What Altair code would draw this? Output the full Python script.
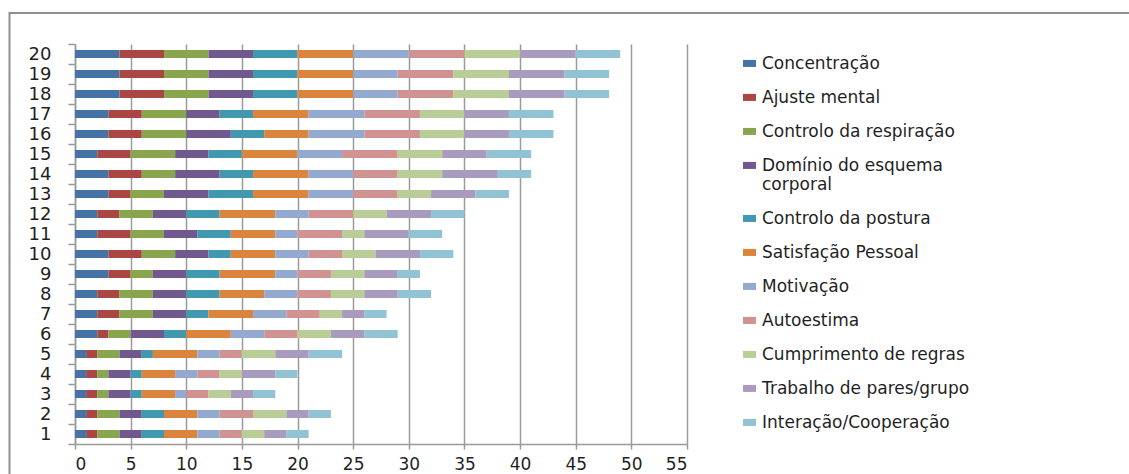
import altair as alt
import pandas as pd

# Rows 1..20 (bottom to top in the chart)
rows = list(range(1, 21))

series_names = [
    "Concentração",
    "Ajuste mental",
    "Controlo da respiração",
    "Domínio do esquema corporal",
    "Controlo da postura",
    "Satisfação Pessoal",
    "Motivação",
    "Autoestima",
    "Cumprimento de regras",
    "Trabalho de pares/grupo",
    "Interação/Cooperação",
]

series_colors = [
    "#4572A7", "#AA4643", "#89A54E", "#71588F", "#4198AF", "#DB843D",
    "#93A9CF", "#D19392", "#B9CD96", "#A99BBD", "#92C3D4",
]

# One list per series, values for rows 1..20
concentracao = [1, 1, 1, 1, 1, 2, 2, 2, 3, 3, 2, 2, 3, 3, 2, 3, 3, 4, 4, 4]
ajuste_mental = [1, 1, 1, 1, 1, 1, 2, 2, 2, 3, 3, 2, 2, 3, 3, 3, 3, 4, 4, 4]
controlo_respiracao = [2, 2, 1, 1, 2, 2, 3, 3, 2, 3, 3, 3, 3, 3, 4, 4, 4, 4, 4, 4]
dominio_esquema = [2, 2, 2, 2, 2, 3, 3, 3, 3, 3, 3, 3, 4, 4, 3, 4, 3, 4, 4, 4]
controlo_postura = [2, 2, 1, 1, 1, 2, 2, 3, 3, 2, 3, 3, 4, 3, 3, 3, 3, 4, 4, 4]
satisfacao = [3, 3, 3, 3, 4, 4, 4, 4, 5, 4, 4, 5, 5, 5, 5, 4, 5, 5, 5, 5]
motivacao = [2, 2, 1, 2, 2, 3, 3, 3, 2, 3, 2, 3, 4, 4, 4, 5, 5, 4, 4, 5]
autoestima = [2, 3, 2, 2, 2, 3, 3, 3, 3, 3, 4, 4, 4, 4, 5, 5, 5, 5, 5, 5]
cumprimento = [2, 3, 2, 2, 3, 3, 2, 3, 3, 3, 2, 3, 3, 4, 4, 4, 4, 5, 5, 5]
trabalho_pares = [2, 2, 2, 3, 3, 3, 2, 3, 3, 4, 4, 4, 4, 5, 4, 4, 4, 5, 5, 5]
interacao = [2, 2, 2, 2, 3, 3, 2, 3, 2, 3, 3, 3, 3, 3, 4, 4, 4, 4, 4, 4]

series_values = [
    concentracao, ajuste_mental, controlo_respiracao, dominio_esquema,
    controlo_postura, satisfacao, motivacao, autoestima, cumprimento,
    trabalho_pares, interacao,
]

x_ticks = list(range(0, 56, 5))

records = []
for k, (name, vals) in enumerate(zip(series_names, series_values)):
    for r, v in zip(rows, vals):
        records.append({"linha": r, "serie": name, "ordem": k, "valor": v})
df = pd.DataFrame(records)

FONT = "DejaVu Sans"
GRID = "#9a9a9a"
TEXT = "#1f1f1f"

# Swatch: a 13x7 rectangle, nudged down to sit beside the first text line
swatch = "M-1,0.68H1V1.76H-1Z"

bars = alt.Chart(df).mark_bar(height={"band": 0.4}).encode(
    x=alt.X(
        "valor:Q",
        stack="zero",
        scale=alt.Scale(domain=[0, 55], nice=False),
        axis=alt.Axis(
            values=x_ticks,
            title=None,
            grid=True,
            gridColor=GRID,
            gridWidth=1.5,
            domainColor=GRID,
            domainWidth=1.5,
            tickColor=GRID,
            tickWidth=1.5,
            tickSize=5,
            labelPadding=7,
            labelFont=FONT,
            labelFontSize=17,
            labelColor=TEXT,
        ),
    ),
    y=alt.Y(
        "linha:O",
        sort="descending",
        scale=alt.Scale(paddingInner=0, paddingOuter=0),
        axis=alt.Axis(
            title=None,
            tickBand="extent",
            domainColor=GRID,
            domainWidth=1.5,
            tickColor=GRID,
            tickWidth=1.5,
            tickSize=7,
            labelPadding=17,
            labelFont=FONT,
            labelFontSize=18,
            labelColor=TEXT,
            grid=False,
        ),
    ),
    color=alt.Color(
        "serie:N",
        scale=alt.Scale(domain=series_names, range=series_colors),
        legend=alt.Legend(
            title=None,
            orient="none",
            legendX=666,
            legendY=3,
            padding=0,
            symbolType=swatch,
            symbolSize=169,
            symbolStrokeWidth=0,
            labelBaseline="top",
            labelOffset=4,
            labelFont=FONT,
            labelFontSize=17,
            labelColor=TEXT,
            labelLimit=400,
            rowPadding=9,
            labelExpr="datum.label == 'Domínio do esquema corporal' ? ['Domínio do esquema', 'corporal'] : datum.label",
        ),
    ),
    order=alt.Order("ordem:Q", sort="ascending"),
)

# Outline of the chart area
frame = alt.Chart(alt.Data(values=[{}])).mark_rect(
    fill="white", fillOpacity=0, stroke="#8f8f8f", strokeWidth=2
).encode(
    x=alt.value(-65.5),
    x2=alt.value(1070),
    y=alt.value(-31),
    y2=alt.value(450),
)

chart = alt.layer(frame, bars).properties(
    width=612,
    height=400,
    autosize=alt.AutoSizeParams(type="none"),
    padding={"left": 75, "top": 44, "right": 442, "bottom": 30},
    background="white",
).configure(
    style={"guide-label": {"lineHeight": 19}}
).configure_view(
    stroke=None
)

chart.save("out.html", embed_options={"renderer": "svg", "actions": False})
